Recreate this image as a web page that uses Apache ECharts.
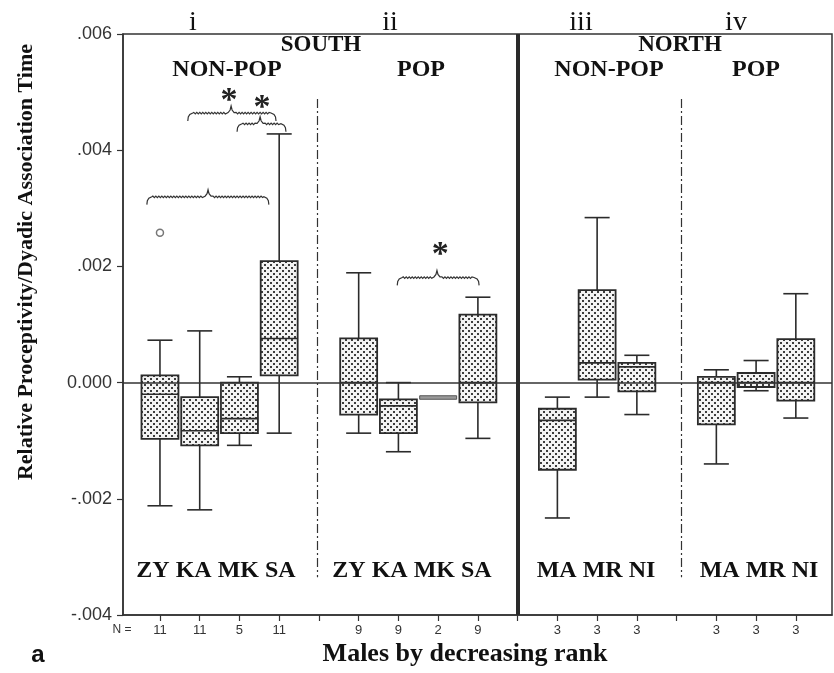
<!DOCTYPE html>
<html><head><meta charset="utf-8">
<script src="https://cdn.jsdelivr.net/npm/echarts@6/dist/echarts.min.js"></script>
<style>html,body{margin:0;padding:0;background:#fff}#c{width:834px;height:673px}</style>
</head><body><div id="c"></div>
<script>
// ---- data ----
const males = ['ZY','KA','MK','SA','ZY','KA','MK','SA','MA','MR','NI','MA','MR','NI'];
const xPos = [1,2,3,4,6,7,8,9,11,12,13,15,16,17];
const nCounts = [11,11,5,11,9,9,2,9,3,3,3,3,3,3];
const whiskerLow  = [-0.00212,-0.00219,-0.00108,-0.00087,-0.00087,-0.00119,-0.000287,-0.00096,-0.00233,-0.00025,-0.00055,-0.00140,-0.00014,-0.00061];
const q1          = [-0.00097,-0.00108,-0.00087, 0.000125,-0.00055,-0.00087,-0.000287,-0.00034,-0.00150, 0.00005,-0.00015,-0.00072,-0.000076,-0.00031];
const median      = [-0.00020,-0.00083,-0.00062, 0.00076, 0.0, -0.00040,-0.00026, 0.0, -0.00065, 0.00034, 0.00027, 0.0, 0.0, 0.0];
const q3          = [ 0.000125,-0.00025, 0.0, 0.00209, 0.00076,-0.00029,-0.000235, 0.00117,-0.00045, 0.00159, 0.00034, 0.00010, 0.000165, 0.00075];
const whiskerHigh = [ 0.00073, 0.00089, 0.00010, 0.00428, 0.00189, 0.0, -0.000235, 0.00147,-0.00025, 0.00284, 0.00047, 0.00022, 0.00038, 0.00153];
const outlierX = [1];
const outlierY = [0.00258];
const yTicks = [-0.004,-0.002,0,0.002,0.004,0.006];
const braceX1 = [0.67,1.70,2.94,6.97];
const braceX2 = [3.74,3.92,4.17,9.03];
const braceApex = [2.21,2.79,3.52,7.97];
const braceY = [0.00320,0.00464,0.004455,0.00181];
const starX = [2.74,3.57,8.05];
const starY = [0.00497,0.00485,0.00232];
const separatorX = [4.97,14.12];
const separatorTop = 0.00488, separatorBottom = -0.00335;
const regionDivider = 10;

// ---- pattern ----
const pc = document.createElement('canvas'); pc.width = 6; pc.height = 6;
const g = pc.getContext('2d');
g.fillStyle = '#f3f3f3'; g.fillRect(0,0,6,6);
g.fillStyle = '#3c3c3c'; g.fillRect(0,0,2,2); g.fillRect(3,3,2,2);
const dotPattern = {image: pc, repeat: 'repeat'};

const boxData = xPos.map((x,i)=>[x, whiskerLow[i], q1[i], median[i], q3[i], whiskerHigh[i]]);
const braceData = braceX1.map((x,i)=>[x, braceX2[i], braceApex[i], braceY[i]]);
const starData = starX.map((x,i)=>[x, starY[i]]);

const INK = '#2b2b2b';
function renderBox(params, api){
  const x = api.value(0);
  const lo = api.coord([x, api.value(1)]);
  const b1 = api.coord([x, api.value(2)]);
  const md = api.coord([x, api.value(3)]);
  const b3 = api.coord([x, api.value(4)]);
  const hi = api.coord([x, api.value(5)]);
  const band = api.size([1,0])[0];
  const bw = band*0.93, cw = band*0.63, cx = lo[0];
  const ls = {stroke: INK, lineWidth: 1.6};
  const ch = [];
  if (hi[1] < b3[1]-0.5) {
    ch.push({type:'line', shape:{x1:cx,y1:b3[1],x2:cx,y2:hi[1]}, style:ls});
    ch.push({type:'line', shape:{x1:cx-cw/2,y1:hi[1],x2:cx+cw/2,y2:hi[1]}, style:ls});
  }
  if (lo[1] > b1[1]+0.5) {
    ch.push({type:'line', shape:{x1:cx,y1:b1[1],x2:cx,y2:lo[1]}, style:ls});
    ch.push({type:'line', shape:{x1:cx-cw/2,y1:lo[1],x2:cx+cw/2,y2:lo[1]}, style:ls});
  }
  const h = b1[1]-b3[1];
  const thin = h < 5;
  ch.push({type:'rect', shape:{x:cx-bw/2, y:b3[1]-(thin?0.5:0), width:bw, height:Math.max(h,3.5)},
           style:{fill: thin ? '#9a9a9a' : dotPattern, stroke: thin ? '#555' : INK, lineWidth: thin ? 1 : 1.8}});
  if (!thin) ch.push({type:'line', shape:{x1:cx-bw/2,y1:md[1],x2:cx+bw/2,y2:md[1]}, style:{stroke:INK,lineWidth:1.6}});
  return {type:'group', children: ch};
}

function wavy(pts, xa, xb, y){
  const step = 1.5;
  let k = 0;
  for (let x = xa; x <= xb; x += step, k++) pts.push([x, y + (k%2 ? 0.9 : -0.6)]);
}
function renderBrace(params, api){
  const p1 = api.coord([api.value(0), api.value(3)]);
  const p2 = api.coord([api.value(1), api.value(3)]);
  const pa = api.coord([api.value(2), api.value(3)]);
  const y = p1[1];
  const pts = [];
  pts.push([p1[0], y+8],[p1[0]+0.5, y+4],[p1[0]+2, y+1.5],[p1[0]+5, y]);
  wavy(pts, p1[0]+6, pa[0]-5, y);
  pts.push([pa[0]-3, y-0.5],[pa[0]-1, y-3],[pa[0], y-7],[pa[0]+1, y-3],[pa[0]+3, y-0.5]);
  wavy(pts, pa[0]+5, p2[0]-6, y);
  pts.push([p2[0]-5, y],[p2[0]-2, y+1.5],[p2[0]-0.5, y+4],[p2[0], y+8]);
  return {type:'polyline', shape:{points:pts}, style:{stroke:'#333', lineWidth:1.2, fill:null}};
}
function renderStar(params, api){
  const p = api.coord([api.value(0), api.value(1)]);
  return {type:'text', x:p[0], y:p[1]+7, style:{text:'*', font:'bold 34px "Liberation Serif"', textAlign:'center', textVerticalAlign:'middle', fill:'#222'}};
}

function yFmt(v){
  const m = Math.round(v*1000);
  if (m === 0) return '0.000';
  return (m<0?'-':'') + '.00' + Math.abs(m);
}

const serifB = '"Liberation Serif", "Times New Roman", serif';
function T(text, x, y, size, opts){
  opts = opts || {};
  return {type:'text', x:x, y:y, rotation: opts.rot || 0, z: 100,
    style:{text:text, font:(opts.weight||'bold')+' '+size+'px '+(opts.family||serifB),
      fill: opts.fill || '#111', textAlign:'center', textVerticalAlign:'middle'}};
}

const chart = echarts.init(document.getElementById('c'), null, {renderer:'canvas'});
chart.setOption({
  animation: false,
  backgroundColor: '#fff',
  grid: {left:123, right:2, top:34, bottom:58, show:true, borderColor:'#333', borderWidth:1.5, backgroundColor:'transparent'},
  xAxis: {
    type:'value', min:0.07, max:17.91,
    axisLine:{show:true, onZero:false, lineStyle:{color:'#333', width:1.5}},
    axisTick:{show:true, inside:false, length:6, customValues:[1,2,3,4,5,6,7,8,9,10,11,12,13,14,15,16,17], lineStyle:{color:'#333', width:1.2}},
    axisLabel:{show:true, customValues: xPos, margin:9, fontSize:13, fontFamily:'"Liberation Sans", Arial, sans-serif', color:'#333',
      formatter: v => { const i = xPos.indexOf(Math.round(v)); return i>=0 ? String(nCounts[i]) : ''; }},
    splitLine:{show:false}
  },
  yAxis: {
    type:'value', min:-0.004, max:0.006, interval:0.002,
    axisLine:{show:true, lineStyle:{color:'#333', width:1.5}},
    axisTick:{show:true, inside:false, length:6, lineStyle:{color:'#333', width:1.2}},
    axisLabel:{margin:11, fontSize:18, fontFamily:'"Liberation Sans", Arial, sans-serif', color:'#333', formatter: yFmt},
    splitLine:{show:false}
  },
  series: [
    {
      type:'custom', name:'boxes', renderItem: renderBox, data: boxData,
      encode:{x:0, y:[1,2,3,4,5]}, z:3,
      markLine:{
        silent:true, symbol:['none','none'], label:{show:false}, z:5,
        data:[
          {yAxis:0, lineStyle:{color:'#333', width:1.5, type:'solid'}},
          {xAxis:regionDivider, lineStyle:{color:'#2a2a2a', width:4, type:'solid'}},
          [{coord:[separatorX[0], separatorTop], lineStyle:{color:'#333', width:1.2, type:[9,3,2,3]}}, {coord:[separatorX[0], separatorBottom]}],
          [{coord:[separatorX[1], separatorTop], lineStyle:{color:'#333', width:1.2, type:[9,3,2,3]}}, {coord:[separatorX[1], separatorBottom]}]
        ]
      }
    },
    {
      type:'scatter', name:'outliers', data: outlierX.map((x,i)=>[x, outlierY[i]]),
      symbol:'circle', symbolSize:7, itemStyle:{color:'#fff', borderColor:'#555', borderWidth:1.5}, z:4
    },
    { type:'custom', name:'braces', renderItem: renderBrace, data: braceData, encode:{x:[0,1], y:3}, z:4 },
    { type:'custom', name:'stars', renderItem: renderStar, data: starData, encode:{x:0, y:1}, z:4 }
  ],
  graphic: [
    T('i', 193, 23, 28, {weight:'normal'}),
    T('ii', 390, 23, 28, {weight:'normal'}),
    T('iii', 581, 23, 28, {weight:'normal'}),
    T('iv', 736, 23, 28, {weight:'normal'}),
    T('SOUTH', 321, 45, 23),
    T('NON-POP', 227, 70, 24),
    T('POP', 421, 70, 24),
    T('NORTH', 680, 45, 23),
    T('NON-POP', 609, 70, 24),
    T('POP', 756, 70, 24),
    T('ZY KA MK SA', 216, 571, 24),
    T('ZY KA MK SA', 412, 571, 24),
    T('MA MR NI', 596, 571, 24),
    T('MA MR NI', 759, 571, 24),
    T('Relative Proceptivity/Dyadic Association Time', 26, 262, 22, {rot: Math.PI/2}),
    T('Males by decreasing rank', 465, 654, 26),
    T('a', 38, 655, 24, {family:'"Liberation Sans", Arial, sans-serif'}),
    T('N =', 122, 630, 12, {weight:'normal', family:'"Liberation Sans", Arial, sans-serif', fill:'#333'})
  ]
});
</script>
</body></html>
